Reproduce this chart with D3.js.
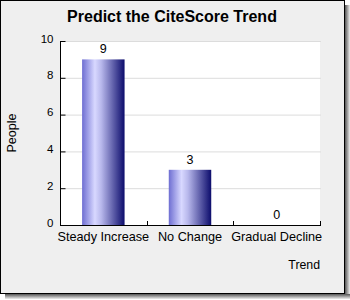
<!DOCTYPE html>
<html><head><meta charset="utf-8">
<script src="https://cdn.jsdelivr.net/npm/d3@7"></script>
<style>body{margin:0;background:#fff}svg{display:block}</style>
</head><body>
<script>
const categories = ["Steady Increase", "No Change", "Gradual Decline"];
const values = [9, 3, 0];
const yTicks = [0, 2, 4, 6, 8, 10];
const title = "Predict the CiteScore Trend";
const xTitle = "Trend";
const yTitle = "People";

const W = 350, H = 300;
const svg = d3.select("body").append("svg").attr("width", W).attr("height", H);
const defs = svg.append("defs");
const sh = defs.append("linearGradient").attr("id","shR").attr("x1",0).attr("x2",1).attr("y1",0).attr("y2",0);
sh.append("stop").attr("offset",0).attr("stop-color","#555");
sh.append("stop").attr("offset",1).attr("stop-color","#eee");
const shB = defs.append("linearGradient").attr("id","shB").attr("x1",0).attr("x2",0).attr("y1",0).attr("y2",1);
shB.append("stop").attr("offset",0).attr("stop-color","#555");
shB.append("stop").attr("offset",1).attr("stop-color","#eee");
const g = defs.append("linearGradient").attr("id","bar").attr("x1",0).attr("x2",1).attr("y1",0).attr("y2",0);
[[0,"#6e6ed2"],[0.3,"#d8d8ff"],[0.45,"#b8b8ec"],[1,"#0c0c6c"]].forEach(s=>g.append("stop").attr("offset",s[0]).attr("stop-color",s[1]));

// shadow
svg.append("rect").attr("x",345).attr("y",5).attr("width",5).attr("height",294).attr("fill","url(#shR)");
svg.append("rect").attr("x",5).attr("y",294).attr("width",345).attr("height",5).attr("fill","url(#shB)");
svg.append("rect").attr("x",0.5).attr("y",0.5).attr("width",344).attr("height",293).attr("fill","#efefef").attr("stroke","#000");

const x0 = 60, x1 = 320, y0 = 225, y1 = 41;
const x = d3.scaleBand().domain(categories).range([x0, x1]).paddingInner(0.51).paddingOuter(0.255);
const y = d3.scaleLinear().domain([0, 10]).range([y0, y1]);

svg.append("rect").attr("x",x0).attr("y",y1).attr("width",x1-x0).attr("height",y0-y1).attr("fill","#fff");
svg.append("g").selectAll("line").data(yTicks.filter(d=>d>0)).join("line")
  .attr("x1",x0).attr("x2",x1+1).attr("y1",d=>y(d)+0.5).attr("y2",d=>y(d)+0.5).attr("stroke","#dcdcdc");

svg.append("g").selectAll("rect").data(values).join("rect")
  .attr("x",(d,i)=>x(categories[i])).attr("width",x.bandwidth())
  .attr("y",d=>y(d)).attr("height",d=>y0-y(d)).attr("fill","url(#bar)");

svg.append("g").selectAll("text").data(values).join("text")
  .attr("x",(d,i)=>x(categories[i])+x.bandwidth()/2).attr("y",d=>y(d)-6)
  .attr("text-anchor","middle").attr("font-family","Liberation Sans, Arial").attr("font-size",12.5).attr("fill","#000")
  .text(d=>d);

// axes
const yAxis = d3.axisLeft(y).tickValues(yTicks).tickSize(-5).tickPadding(7);
const ya = svg.append("g").attr("transform",`translate(${x0+0.5},0)`).call(yAxis);
ya.select(".domain").remove();
ya.selectAll("text").attr("font-family","Liberation Sans, Arial").attr("font-size",11.5).attr("fill","#000").attr("dy","0.1em");
svg.append("line").attr("x1",x0+0.5).attr("x2",x0+0.5).attr("y1",y1).attr("y2",y0+1).attr("stroke","#000");

const xb = d3.scaleLinear().domain([0,3]).range([x0,x1]);
svg.append("g").selectAll("line").data([1,2,3]).join("line")
  .attr("x1",d=>Math.round(xb(d))+0.5).attr("x2",d=>Math.round(xb(d))+0.5).attr("y1",y0).attr("y2",y0-4).attr("stroke","#000");
svg.append("line").attr("x1",x0).attr("x2",x1+1).attr("y1",y0+0.5).attr("y2",y0+0.5).attr("stroke","#000");
svg.append("g").selectAll("text").data(categories).join("text")
  .attr("x",d=>x(d)+x.bandwidth()/2).attr("y",241).attr("text-anchor","middle")
  .attr("font-family","Liberation Sans, Arial").attr("font-size",12.7).attr("fill","#000").text(d=>d);

svg.append("text").attr("x",172).attr("y",22).attr("text-anchor","middle")
  .attr("font-family","Liberation Sans, Arial").attr("font-weight","bold").attr("font-size",16).text(title);
svg.append("text").attr("x",320).attr("y",269).attr("text-anchor","end")
  .attr("font-family","Liberation Sans, Arial").attr("font-size",12.3).text(xTitle);
svg.append("text").attr("transform","translate(16,133) rotate(-90)").attr("text-anchor","middle")
  .attr("font-family","Liberation Sans, Arial").attr("font-size",12.5).text(yTitle);
</script>
</body></html>
